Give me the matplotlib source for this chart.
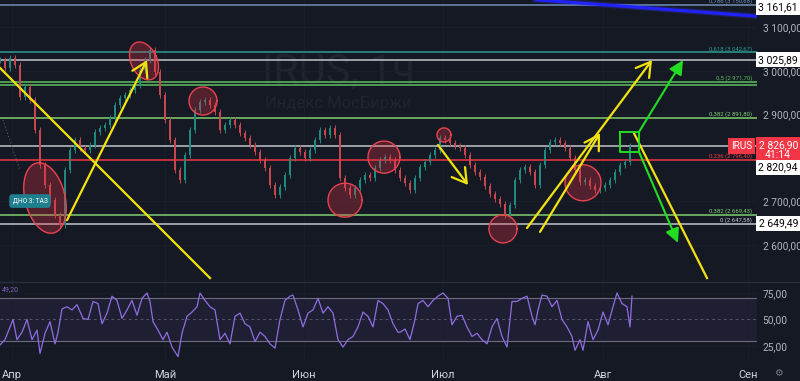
import numpy as np
import matplotlib.pyplot as plt

plt.rcParams["font.family"] = ["Roboto", "DejaVu Sans"]

BG = "#151924"
TXT = "#b2b5be"
UP = "#1f8a80"
DOWN = "#c8464d"
YELLOW = "#f2e20f"
GREEN = "#22dd22"

# hourly closes, one every 5 bars (x = bar position)
closes = [3025, 3007, 3030, 3014, 2940, 2963, 2933, 2864, 2784, 2738,
          2703, 2669, 2646, 2772, 2818, 2841, 2823, 2818, 2830, 2860,
          2869, 2876, 2892, 2922, 2938, 2945, 2956, 2968, 3002, 3025,
          3048, 2998, 2945, 2887, 2841, 2772, 2749, 2807, 2864, 2910,
          2929, 2933, 2922, 2906, 2864, 2876, 2887, 2876, 2857, 2846,
          2830, 2814, 2795, 2777, 2738, 2715, 2733, 2761, 2800, 2823,
          2814, 2800, 2818, 2841, 2864, 2853, 2869, 2853, 2754, 2731,
          2715, 2731, 2749, 2761, 2754, 2777, 2795, 2802, 2795, 2772,
          2754, 2742, 2726, 2754, 2779, 2791, 2807, 2818, 2846, 2841,
          2834, 2828, 2823, 2807, 2784, 2768, 2756, 2736, 2717, 2706,
          2694, 2669, 2692, 2749, 2772, 2779, 2768, 2738, 2784, 2818,
          2837, 2841, 2834, 2823, 2800, 2772, 2745, 2749, 2736, 2726,
          2731, 2738, 2749, 2768, 2784, 2791, 2826.9]
bar_x = np.arange(len(closes)) * 5

# RSI(14)
rsi_x = [0, 5, 10, 13, 17, 22, 27, 32, 37, 40, 45, 50, 55, 58, 62, 67, 72, 77, 83, 88,
         93, 98, 102, 107, 112, 117, 122, 127, 132, 137, 142, 147, 150, 153, 158, 163, 167, 172, 178, 182,
         187, 192, 197, 200, 205, 210, 215, 220, 225, 230, 235, 240, 245, 250, 255, 260, 265, 270, 275, 280,
         285, 290, 293, 298, 303, 308, 313, 318, 323, 328, 333, 338, 343, 348, 353, 358, 363, 368, 373, 378,
         383, 388, 393, 398, 400, 405, 410, 415, 418, 423, 428, 433, 438, 443, 448, 452, 457, 462, 467, 472,
         477, 482, 487, 492, 497, 502, 507, 512, 517, 522, 527, 532, 535, 538, 542, 547, 552, 557, 562, 567,
         572, 575, 580, 583, 588, 593, 598, 603, 608, 613, 617, 622, 627, 630, 632]
rsi_val = [26, 31, 43, 50, 31, 38, 50, 31, 40, 18, 37, 48, 27, 38, 60, 62, 59, 64, 51, 50,
           67, 65, 46, 56, 72, 68, 51, 59, 68, 54, 70, 75, 67, 48, 40, 31, 38, 24, 15, 37,
           53, 57, 62, 75, 68, 62, 59, 31, 37, 27, 53, 56, 46, 43, 29, 38, 34, 27, 23, 50,
           68, 72, 73, 59, 43, 56, 59, 70, 56, 62, 56, 31, 24, 31, 34, 43, 57, 53, 43, 68,
           65, 59, 46, 38, 38, 41, 31, 50, 65, 68, 62, 68, 72, 75, 70, 45, 53, 54, 43, 34,
           37, 31, 27, 43, 51, 34, 24, 67, 67, 70, 72, 53, 45, 59, 73, 72, 62, 68, 50, 43,
           34, 21, 31, 21, 48, 31, 40, 57, 45, 62, 75, 65, 62, 43, 72]

month_pos = [12, 165, 304, 443, 603, 748]
month_labels = ["Апр", "Май", "Июн", "Июл", "Авг", "Сен"]

price_ticks = [3100, 3000, 2900, 2700, 2600]
price_tick_labels = ["3 100,00", "3 000,00", "2 900,00", "2 700,00", "2 600,00"]

# fib / level lines
level_prices = [3151.7, 3042.67, 3025.89, 2975.0, 2968.0, 2891.8, 2826.9, 2796.4, 2669.43, 2647.58]
level_labels = ["0,786 (3 150,68)", "0,618 (3 042,67)", "", "0,5 (2 971,70)", "", "0,382 (2 891,80)",
                "", "0,236 (2 796,40)", "0,382 (2 669,43)", "0 (2 647,58)"]
level_colors = ["#6d8fb5", "#2a9d94", "#c3c5cc", "#5fbf5f", "#5fbf5f", "#7fcf6f",
                "#c3c5cc", "#f23645", "#7fcf6f", "#c3c5cc"]

# drawings: (x, price) pairs
trend_down = ([0, 210], [3007, 2524])
arrow_up_1 = ((67, 2657), (147, 3025))
arrow_down_1 = ((438, 2830), (468, 2738))
arrow_up_2 = ((527, 2639), (652, 3025))
arrow_up_3 = ((540, 2630), (600, 2857))
trend_down_2 = ([634, 707], [2857, 2524])
green_up = ((639, 2860), (683, 3025))
green_down = ((639, 2814), (678, 2605))
green_box = ([620, 639, 639, 620, 620], [2860, 2860, 2814, 2814, 2860])
# ellipses: center x, center price, half width px, half height px, tilt
ellipses = [(45, 2708, 20, 36, 14), (144, 3023, 13, 20, 25), (203, 2931, 14, 14, 0),
            (345, 2703, 17, 17, 0), (384, 2802, 16, 16, 0), (444, 2853, 7, 7, 0),
            (503, 2637, 14, 14, 0), (583, 2743, 18, 18, 30)]

W, H = 800, 381
fig = plt.figure(figsize=(8, 3.81), dpi=100, facecolor=BG)
ax = fig.add_axes([0, 1 - 281 / H, 757 / W, 281 / H], facecolor=BG)
ax2 = fig.add_axes([0, 21 / H, 757 / W, 79 / H], facecolor=BG)

ymin, ymax = 2517.2, 3163.2
ax.set_xlim(0, 757)
ax.set_ylim(ymin, ymax)
px_per_pt = 281 / (ymax - ymin)

for a in (ax, ax2):
    for s in a.spines.values():
        s.set_visible(False)
    a.set_xticks(month_pos)
    a.grid(color="#1b1f2c", lw=0.6, zorder=0)
    a.yaxis.tick_right()
    a.tick_params(length=0, colors=TXT, labelsize=7.3, pad=4)
ax.tick_params(labelbottom=False)
ax.set_yticks(price_ticks, labels=price_tick_labels)

ax.text(0.447, 0.744, "IRUS, 1ч", transform=ax.transAxes, ha="center", va="center",
        fontsize=30, color="#20242f", zorder=0)
ax.text(0.447, 0.63, "Индекс МосБиржи", transform=ax.transAxes, ha="center", va="center",
        fontsize=12, color="#20242f", zorder=0)

for p, lab, col in zip(level_prices, level_labels, level_colors):
    ax.axhline(p, color=col, lw=1.1, zorder=2)
    if lab:
        ax.text(752, p + 2, lab, ha="right", va="bottom", fontsize=4.3, color=col, zorder=3)

# candles
opens = [closes[0]] + closes[:-1]
for x, o, c in zip(bar_x, opens, closes):
    col = UP if c >= o else DOWN
    lo, hi = min(o, c), max(o, c)
    ax.vlines(x, lo - 7, hi + 7, color=col, lw=0.7, zorder=3)
    ax.bar(x, max(hi - lo, 2), bottom=lo, width=2.4, color=col, zorder=3)

# ellipses
t = np.linspace(0, 2 * np.pi, 120)
for cx, cp, a_, b_, ang in ellipses:
    r = np.deg2rad(ang)
    dx, dy = a_ * np.cos(t), b_ * np.sin(t)
    ex = cx + dx * np.cos(r) - dy * np.sin(r)
    ey = cp + (dx * np.sin(r) + dy * np.cos(r)) / px_per_pt
    ax.fill(ex, ey, color="#e03545", alpha=0.3, lw=0, zorder=4)
    ax.plot(ex, ey, color="#e8434f", lw=1.0, zorder=4)

ax.plot([3, 20], [2887, 2772], color="#555a66", lw=0.8, ls=(0, (1, 2)), zorder=4)
ax.plot(*trend_down, color=YELLOW, lw=1.6, zorder=5)
ax.plot(*trend_down_2, color=YELLOW, lw=1.6, zorder=5)
for s, e in (arrow_up_1, arrow_down_1, arrow_up_2, arrow_up_3):
    ax.annotate("", xy=e, xytext=s,
                arrowprops=dict(arrowstyle="->,head_length=0.5,head_width=0.3", color=YELLOW,
                                lw=1.6, shrinkA=0, shrinkB=0, mutation_scale=20), zorder=5)
for s, e in (green_up, green_down):
    ax.annotate("", xy=e, xytext=s,
                arrowprops=dict(arrowstyle="-|>,head_length=0.6,head_width=0.3", color=GREEN,
                                lw=1.5, shrinkA=0, shrinkB=0, mutation_scale=14), zorder=5)
ax.plot(*green_box, color=GREEN, lw=1.4, zorder=5)

# blue trend line at top
ax.plot([535, 757], [3164, 3126], color="#1a1aff", lw=2.2, zorder=5, solid_capstyle="butt")
ax.plot([535, 757], [3164, 3126], color="#3b3bff", lw=4, alpha=0.25, zorder=5)

ax.text(30, 2701, "ДНО 3: ТАЗ", ha="center", va="center", fontsize=4.8, color="white",
        bbox=dict(boxstyle="round,pad=0.5", fc="#1f7f8f", ec="none"), zorder=6)

# right-hand price tags
yt = ax.get_yaxis_transform()


def tag(price, text, fc, tc):
    ax.text(1.028, price, text, transform=yt, ha="center", va="center", fontsize=7.5, color=tc,
            clip_on=False, zorder=7, linespacing=1.05,
            bbox=dict(boxstyle="square,pad=0.25", fc=fc, ec="none"))


tag(3147, "3 161,61", "white", "black")
tag(3025.89, "3 025,89", "white", "black")
tag(2818, "2 826,90\n41:14", "#f23645", "white")
tag(2779, "2 820,94", "white", "black")
tag(2649.49, "2 649,49", "white", "black")
ax.text(0.994, 2826.9, "IRUS", transform=yt, ha="right", va="center", fontsize=7.2,
        color="white", clip_on=False, zorder=7,
        bbox=dict(boxstyle="square,pad=0.3", fc="#f23645", ec="none"))

# RSI pane
ax2.set_xlim(0, 757)
ax2.set_ylim(11.8, 86.3)
ax2.axhspan(30, 70, color="#7e57c2", alpha=0.1, lw=0)
ax2.axhline(70, color="#6f6a80", lw=0.8)
ax2.axhline(30, color="#6f6a80", lw=0.8)
ax2.axhline(50, color="#6f6a80", lw=0.7, ls=(0, (3, 3)), alpha=0.7)
ax2.plot(rsi_x, rsi_val, color="#8f6ee0", lw=0.9)
ax2.set_yticks([75, 50, 25], labels=["75,00", "50,00", "25,00"])
ax2.set_xticks(month_pos, labels=month_labels)
ax2.tick_params(axis="x", labelcolor="#d1d4dc", labelsize=8, pad=7)
ax2.text(0.002, 0.93, "49,20", transform=ax2.transAxes, fontsize=5, color="#7e62c0", va="top")

fig.add_artist(plt.Line2D([0, 1], [1 - 282 / H] * 2, color="#2a2e39", lw=1))
fig.text(778 / W, 1 - 373 / H, "⚙", ha="center", va="center", fontsize=7, color="#787b86")

fig.savefig("out.png", dpi=100, facecolor=BG)
